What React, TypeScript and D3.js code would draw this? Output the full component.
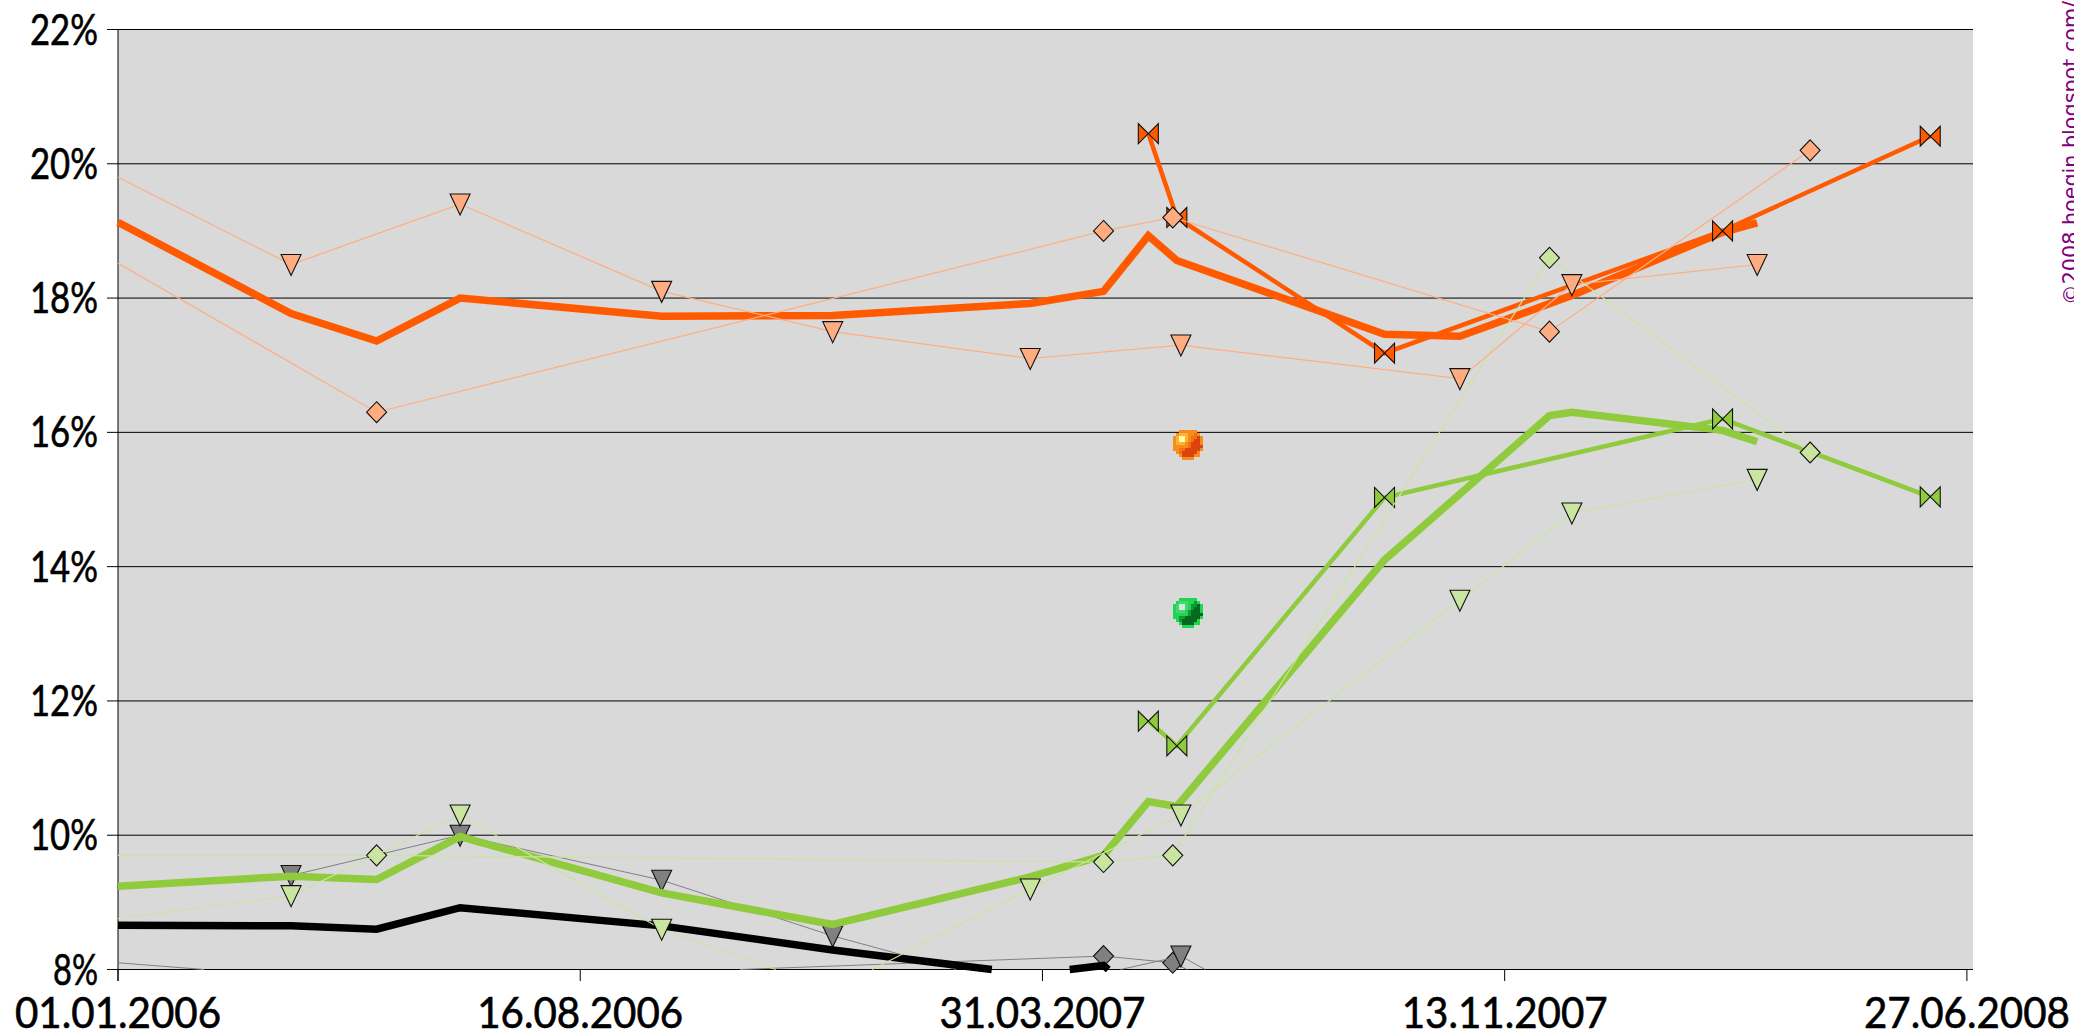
import React from 'react';
import * as d3 from 'd3';

// x values are days since 01.01.2006
const xTickDays = [0, 227, 454, 681, 908];
const xTickLabels = ['01.01.2006', '16.08.2006', '31.03.2007', '13.11.2007', '27.06.2008'];
const yTicks = [8, 10, 12, 14, 16, 18, 20, 22];

const orangeAvgDays = [0, 85, 127, 168, 267, 351, 448, 484, 506, 520, 622, 659, 714, 788, 805];
const orangeAvgValues = [19.13, 17.77, 17.36, 18.0, 17.73, 17.74, 17.92, 18.1, 18.93, 18.56, 17.46, 17.43, 18.04, 18.98, 19.12];

const greenAvgDays = [0, 85, 127, 168, 267, 351, 448, 484, 506, 520, 622, 703, 714, 788, 805];
const greenAvgValues = [9.24, 9.39, 9.34, 9.98, 9.14, 8.67, 9.38, 9.7, 10.5, 10.43, 14.1, 16.25, 16.3, 16.03, 15.86];

const blackAvgDays = [0, 85, 127, 168, 267, 351, 448, 484, 506];
const blackAvgValues = [8.66, 8.65, 8.6, 8.92, 8.65, 8.29, 7.93, 8.06, 7.5];

const bowDays = [506, 520, 622, 788, 890];
const orangeBowValues = [20.45, 19.2, 17.18, 19.0, 20.41];
const greenBowValues = [11.7, 11.33, 15.03, 16.2, 15.04];

const diamondDays = [0, 127, 484, 518, 703, 831];
const orangeDiamondValues = [18.52, 16.3, 19.0, 19.2, 17.5, 20.2];
const greenDiamondValues = [9.7, 9.7, 9.6, 9.7, 18.6, 15.7];
const grayDiamondValues = [8.1, 7.8, 8.2, 8.1, 5.5, 5.5];

const triangleDays = [0, 85, 168, 267, 351, 448, 522, 659, 714, 805];
const orangeTriangleValues = [19.8, 18.5, 19.4, 18.1, 17.5, 17.1, 17.3, 16.8, 18.2, 18.5];
const greenTriangleValues = [8.76, 9.1, 10.3, 8.6, 7.7, 9.2, 10.3, 13.5, 14.8, 15.3];

const grayTriangleDays = [85, 168, 267, 351, 448, 522, 659];
const grayTriangleValues = [9.4, 10.0, 9.33, 8.5, 7.7, 8.2, 5.9];

const ballDay = 525.5;
const orangeBallValue = 15.82;
const greenBallValue = 13.32;

// the two round point icons: a small pixel sprite with a palette per colour
const ballSprite = [
  '..aaaaaa..',
  '.abbbaaea.',
  'abccbaeeda',
  'abccbaedda',
  'abbbaeddda',
  'aaaaaedddd',
  'aaeeddddda',
  '.aeddddda.',
  '..addddaa.',
  '...aaaa...',
];
const orangeBallPalette: Record<string, string> = { a: '#f98d1a', b: '#fcb232', c: '#fff9a8', d: '#db440c', e: '#f4711a' };
const greenBallPalette: Record<string, string> = { a: '#1ed650', b: '#4fcf78', c: '#c5f0cc', d: '#07681f', e: '#0f9a35' };

const C = {
  bg: '#d9d9d9', orange: '#ff5a00', green: '#8fcb3c', lightOrange: '#ffad80',
  lightGreen: '#c9e5a0', gray: '#808080',
};

const x = d3.scaleLinear().domain([0, 911]).range([118, 1973]);
const y = d3.scaleLinear().domain([8, 22]).range([969.5, 29.5]);
const Y_MIN = 8;

type P = [number, number];
const zip = (days: number[], vals: number[]): P[] => days.map((d, i) => [d, vals[i]]);

// keep only the parts of a polyline on or above the axis minimum
function visibleRuns(pts: P[]): P[][] {
  const runs: P[][] = [];
  let cur: P[] = [];
  pts.forEach((p, i) => {
    const prev = pts[i - 1];
    if (prev && (prev[1] < Y_MIN) !== (p[1] < Y_MIN)) {
      const t = (Y_MIN - prev[1]) / (p[1] - prev[1]);
      const c: P = [prev[0] + t * (p[0] - prev[0]), Y_MIN];
      cur.push(c);
      if (p[1] < Y_MIN) { runs.push(cur); cur = []; }
    }
    if (p[1] >= Y_MIN) cur.push(p);
  });
  if (cur.length) runs.push(cur);
  return runs;
}

const lineGen = d3.line<P>().x(d => x(d[0])).y(d => y(d[1]));

function Line({ pts, color, width }: { pts: P[]; color: string; width: number }) {
  return (
    <g>
      {visibleRuns(pts).map((r, i) => (
        <path key={i} d={lineGen(r) || ''} fill="none" stroke={color} strokeWidth={width}
          strokeLinejoin="miter" strokeLinecap="butt" />
      ))}
    </g>
  );
}

const shapes = {
  triangle: 'M-10,-10L10,-10L0,11Z',
  diamond: 'M0,-10.5L10,0L0,10.5L-10,0Z',
  bow: 'M-10,-10L0,0L-10,10ZM10,-10L0,0L10,10Z',
};

function Markers({ pts, shape, fill }: { pts: P[]; shape: keyof typeof shapes; fill: string }) {
  return (
    <g>
      {pts.filter(p => p[1] >= Y_MIN && p[0] > 0).map((p, i) => (
        <path key={i} d={shapes[shape]} transform={`translate(${x(p[0])},${y(p[1])})`}
          fill={fill} stroke="#111" strokeWidth={1.1} strokeLinejoin="miter" />
      ))}
    </g>
  );
}

function Ball({ value, palette }: { value: number; palette: Record<string, string> }) {
  const cell = 3;
  const x0 = Math.round(x(ballDay) - 15);
  const y0 = Math.round(y(value) - 14.5);
  return (
    <g shapeRendering="crispEdges">
      {ballSprite.flatMap((row, r) => row.split('').map((ch, c) => ch === '.' ? null : (
        <rect key={`${r}-${c}`} x={x0 + c * cell} y={y0 + r * cell} width={cell} height={cell} fill={palette[ch]} />
      )))}
    </g>
  );
}

const labelFont = 'Lato, "Open Sans", sans-serif';

export default function App() {
  const left = x.range()[0];
  const right = x.range()[1];
  const top = y(22);
  const bottom = y(8);
  return (
    <svg width={2074} height={1034} style={{ position: 'absolute', left: 0, top: 0, display: 'block', background: '#fff' }}>
      <rect x={left} y={top} width={right - left} height={bottom - top} fill={C.bg} />
      {yTicks.map(v => (
        <line key={v} x1={107} x2={right} y1={y(v)} y2={y(v)} stroke="#000" strokeWidth={1} />
      ))}
      <line x1={left} x2={left} y1={top} y2={981} stroke="#000" strokeWidth={1} />
      {xTickDays.map(d => (
        <line key={d} x1={x(d)} x2={x(d)} y1={bottom} y2={981} stroke="#000" strokeWidth={1} />
      ))}
      {yTicks.map(v => (
        <text key={v} x={98} y={y(v) + 15} textAnchor="end" fontFamily={labelFont} fontSize={42} fill="#000"
          stroke="#000" strokeWidth={0.6}
          textLength={v < 10 ? 45 : 68} lengthAdjust="spacingAndGlyphs">{`${v}%`}</text>
      ))}
      {xTickDays.map((d, i) => (
        <text key={d} x={x(d)} y={1028} textAnchor="middle" fontFamily={labelFont} fontSize={42} fill="#000"
          stroke="#000" strokeWidth={0.6}
          textLength={206} lengthAdjust="spacingAndGlyphs">{xTickLabels[i]}</text>
      ))}

      <Line pts={zip(diamondDays, grayDiamondValues)} color={C.gray} width={1} />
      <Markers pts={zip(diamondDays, grayDiamondValues)} shape="diamond" fill={C.gray} />
      <Line pts={zip(grayTriangleDays, grayTriangleValues)} color={C.gray} width={1} />
      <Markers pts={zip(grayTriangleDays, grayTriangleValues)} shape="triangle" fill={C.gray} />

      <Line pts={zip(blackAvgDays, blackAvgValues)} color="#000" width={7.5} />
      <Line pts={zip(greenAvgDays, greenAvgValues)} color={C.green} width={7.5} />
      <Line pts={zip(orangeAvgDays, orangeAvgValues)} color={C.orange} width={7.5} />

      <Line pts={zip(bowDays, greenBowValues)} color={C.green} width={4.5} />
      <Markers pts={zip(bowDays, greenBowValues)} shape="bow" fill={C.green} />
      <Line pts={zip(bowDays, orangeBowValues)} color={C.orange} width={4.5} />
      <Markers pts={zip(bowDays, orangeBowValues)} shape="bow" fill={C.orange} />

      <Line pts={zip(diamondDays, greenDiamondValues)} color={C.lightGreen} width={1.2} />
      <Markers pts={zip(diamondDays, greenDiamondValues)} shape="diamond" fill={C.lightGreen} />
      <Line pts={zip(triangleDays, greenTriangleValues)} color={C.lightGreen} width={1.2} />
      <Markers pts={zip(triangleDays, greenTriangleValues)} shape="triangle" fill={C.lightGreen} />
      <Line pts={zip(diamondDays, orangeDiamondValues)} color={C.lightOrange} width={1.2} />
      <Markers pts={zip(diamondDays, orangeDiamondValues)} shape="diamond" fill={C.lightOrange} />
      <Line pts={zip(triangleDays, orangeTriangleValues)} color={C.lightOrange} width={1.2} />
      <Markers pts={zip(triangleDays, orangeTriangleValues)} shape="triangle" fill={C.lightOrange} />

      <Ball value={orangeBallValue} palette={orangeBallPalette} />
      <Ball value={greenBallValue} palette={greenBallPalette} />

      <text transform="translate(2078,305) rotate(-90)" fontFamily='"DejaVu Sans", sans-serif' fontSize={20.7} fill="#800080">©2008 hoegin.blogspot.com/</text>
    </svg>
  );
}
